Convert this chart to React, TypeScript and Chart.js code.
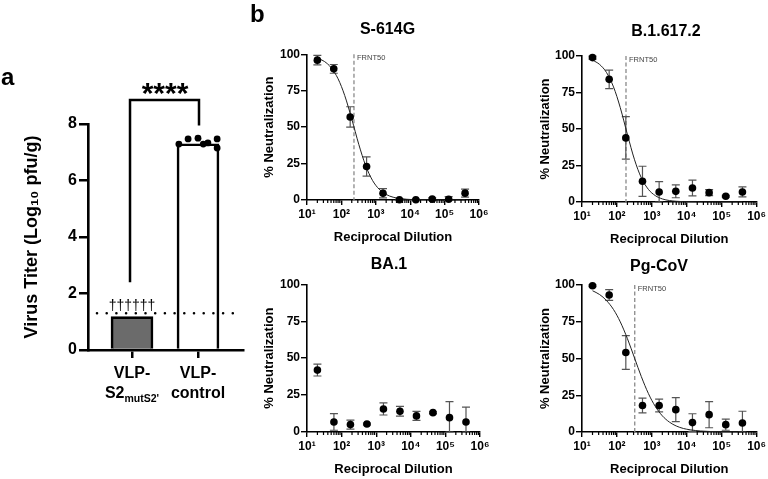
import React, { useEffect, useRef } from "react";
import { Chart, registerables } from "chart.js";

Chart.register(...registerables);

const FONT = "'Liberation Sans', Arial, Helvetica, sans-serif";
Chart.defaults.font.family = FONT;
Chart.defaults.color = "#000";

// ---------------- Panel a data ----------------
const groupNames = ["VLP-S2mutS2'", "VLP-control"];
const groupMeans = [1.18, 7.3];
const controlValues = [7.29, 7.47, 7.5, 7.29, 7.33, 7.47, 7.15];
const controlJitter = [-0.29, -0.15, 0, 0.08, 0.15, 0.29, 0.29];
const limitOfDetection = 1.3;
const deathMarks = "††††††";
const titerTicks = [0, 2, 4, 6, 8];
const significanceLabel = "****";

// ---------------- Panel b data ----------------
const dilutions = [20, 60, 180, 540, 1620, 4860, 14580, 43740, 131220, 393660];

const s614gMean = [96, 90, 57, 23, 4.6, 0.2, 0.2, 0.6, 0.5, 4.7];
const s614gSD = [3.3, 3, 7, 6.6, 3.2, 0.4, 0.4, 0.8, 1.8, 2.7];
const b16172Mean = [98.9, 84, 43.9, 14.2, 6.9, 7.3, 9.6, 6.4, 3.9, 6.9];
const b16172SD = [1, 6.3, 14.6, 10.3, 7, 4.4, 5.4, 2.1, 0.6, 3.4];
const ba1Mean = [41.9, 6.8, 5, 5.4, 15.6, 14, 10.9, 13.1, 9.7, 6.8];
const ba1SD = [4, 5.6, 3, 0.6, 4.1, 3.3, 3, 0.6, 10.9, 10];
const pgcovMean = [99.5, 93.2, 54.1, 18, 18, 15.2, 6.4, 11.8, 5, 6.1];
const pgcovSD = [0.6, 3.7, 11.5, 5, 4.3, 8.2, 6, 8.9, 3.8, 8];

// fitted curves
const curveDilutions = [20, 32, 50, 80, 125, 200, 320, 500, 800, 1250, 2000, 3200, 5000, 8000, 12500, 25000, 100000, 393660];
const s614gCurve = [97.5, 95.1, 90.9, 83.2, 71.7, 55.6, 38.2, 24.0, 13.5, 7.4, 3.8, 1.9, 1.0, 0.5, 0.25, 0.09, 0.01, 0];
const b16172Curve = [97.2, 94.2, 88.8, 78.8, 64.6, 46.2, 28.9, 16.6, 8.6, 4.4, 2.1, 1.0, 0.5, 0.23, 0.11, 0.04, 0, 0];
const pgcovCurve = [96.1, 93.5, 89.5, 83.3, 74.9, 63.5, 50.3, 37.7, 26.1, 17.5, 11.0, 6.7, 4.1, 2.4, 1.5, 0.67, 0.14, 0.03];

const s614gFrnt50 = 232;
const b16172Frnt50 = 182;
const pgcovFrnt50 = 324;

const dilutionTicks = [1e1, 1e2, 1e3, 1e4, 1e5, 1e6];
const dilutionTickLabels = ["10¹", "10²", "10³", "10⁴", "10⁵", "10⁶"];
const neutralizationTicks = [0, 25, 50, 75, 100];

// ---------------- helpers ----------------
function useChart(ref: any, build: () => any) {
  useEffect(() => {
    const chart = new Chart(ref.current, build());
    return () => chart.destroy();
  }, []);
}

function PanelA() {
  const ref = useRef<HTMLCanvasElement>(null);
  const W = 250, H = 420;
  const plotL = 88, plotR = 243, plotT = 124, plotB = 350, xH = 12;
  useChart(ref, () => {
    const plugin = {
      id: "panelA",
      afterDatasetsDraw(chart: any) {
        const { ctx, scales } = chart;
        const xs = scales.x, ys = scales.y;
        ctx.save();
        const yl = ys.getPixelForValue(limitOfDetection);
        ctx.strokeStyle = "#000";
        ctx.lineWidth = 2.6;
        ctx.lineCap = "round";
        ctx.setLineDash([0, 9.7]);
        ctx.beginPath();
        ctx.moveTo(chart.chartArea.left + 9, yl);
        ctx.lineTo(chart.chartArea.right - 2, yl);
        ctx.stroke();
        ctx.setLineDash([]);
        ctx.fillStyle = "#000";
        ctx.font = `14px ${FONT}`;
        ctx.textAlign = "center";
        ctx.textBaseline = "alphabetic";
        ctx.fillText(deathMarks, xs.getPixelForValue(0), yl - 3);
        ctx.restore();
      },
      afterDraw(chart: any) {
        const { ctx, scales } = chart;
        const xs = scales.x, ys = scales.y;
        ctx.save();
        ctx.fillStyle = "#000";
        ctx.textBaseline = "alphabetic";
        const c0 = xs.getPixelForValue(0), c1 = xs.getPixelForValue(1);
        ctx.textAlign = "center";
        ctx.font = `bold 16px ${FONT}`;
        ctx.fillText("VLP-", c0, 378);
        ctx.fillText("VLP-", c1, 378);
        ctx.fillText("control", c1, 398);
        ctx.textAlign = "left";
        ctx.font = `bold 16px ${FONT}`;
        const w1 = ctx.measureText("S2").width;
        ctx.font = `bold 10.5px ${FONT}`;
        const w2 = ctx.measureText("mutS2'").width;
        const sx = c0 - (w1 + w2) / 2;
        ctx.font = `bold 16px ${FONT}`;
        ctx.fillText("S2", sx, 398);
        ctx.font = `bold 10.5px ${FONT}`;
        ctx.fillText("mutS2'", sx + w1, 402);
        const top = ys.getPixelForValue(8.85);
        ctx.strokeStyle = "#000";
        ctx.lineWidth = 2.5;
        ctx.lineCap = "butt";
        ctx.beginPath();
        ctx.moveTo(c0 - 2, ys.getPixelForValue(2.4));
        ctx.lineTo(c0 - 2, top);
        ctx.lineTo(c1 + 1, top);
        ctx.lineTo(c1 + 1, ys.getPixelForValue(7.95));
        ctx.stroke();
        ctx.textAlign = "center";
        ctx.font = `bold 30px ${FONT}`;
        ctx.fillText(significanceLabel, (c0 + c1) / 2, top + 3);
        ctx.textAlign = "left";
        ctx.font = `bold 24px ${FONT}`;
        ctx.fillText("a", 1, 85);
        ctx.restore();
      },
    };
    return {
      type: "bar",
      data: {
        datasets: [
          {
            type: "bar",
            label: "titer",
            data: groupMeans.map((v, i) => ({ x: i, y: v })),
            backgroundColor: ["#6b6b6b", "#ffffff"],
            borderColor: "#000",
            borderWidth: 2.6,
            barThickness: 42,
            order: 1,
          },
          {
            type: "scatter",
            label: "control animals",
            data: controlValues.map((v, i) => ({ x: 1 + controlJitter[i], y: v })),
            pointRadius: 3.4,
            pointBackgroundColor: "#000",
            pointBorderWidth: 0,
            clip: false,
            order: 0,
          },
        ],
      },
      options: {
        responsive: false,
        animation: false,
        layout: { padding: { left: 0, top: plotT, right: W - plotR, bottom: H - plotB - xH } },
        plugins: { legend: { display: false }, tooltip: { enabled: false } },
        scales: {
          x: {
            type: "linear",
            min: -0.667,
            max: 1.682,
            offset: false,
            afterFit: (s: any) => { s.height = xH; },
            afterBuildTicks: (s: any) => { s.ticks = groupNames.map((_, i) => ({ value: i })); },
            ticks: { display: false },
            grid: { display: true, offset: false, drawOnChartArea: false, drawTicks: true, tickLength: 8, color: "#000", lineWidth: 2.5 },
            border: { display: true, color: "#000", width: 2.6 },
          },
          y: {
            min: 0,
            max: 8,
            afterFit: (s: any) => { s.width = plotL; },
            afterBuildTicks: (s: any) => { s.ticks = titerTicks.map((v) => ({ value: v })); },
            ticks: { padding: 2, font: { size: 16, weight: "bold" }, color: "#000" },
            grid: { display: true, drawOnChartArea: false, drawTicks: true, tickLength: 9, color: "#000", lineWidth: 2.5 },
            border: { display: true, color: "#000", width: 2.6 },
            title: {
              display: true,
              text: "Virus Titer (Log₁₀ pfu/g)",
              font: { size: 18, weight: "bold" },
              color: "#000",
              padding: { top: 21, bottom: 0 },
            },
          },
        },
      },
      plugins: [plugin],
    };
  });
  return (
    <canvas
      ref={ref}
      width={W}
      height={H}
      style={{ position: "absolute", left: 0, top: 0, width: W, height: H }}
    />
  );
}

type NeutProps = {
  cLeft: number; cTop: number; cW: number; cH: number;
  plotL: number; plotT: number; plotR: number; plotB: number;
  yTitleX: number;
  title: string; titleX: number; titleY: number;
  mean: number[]; sd: number[];
  curve?: number[]; frnt50?: number;
  letter?: string;
};

function NeutPanel(p: NeutProps) {
  const ref = useRef<HTMLCanvasElement>(null);
  const xH = 45;
  useChart(ref, () => {
    const plugin = {
      id: "neut",
      beforeDatasetsDraw(chart: any) {
        const { ctx, scales, chartArea } = chart;
        const xs = scales.x, ys = scales.y;
        ctx.save();
        if (p.frnt50) {
          const fx = xs.getPixelForValue(p.frnt50);
          ctx.strokeStyle = "#8a8a8a";
          ctx.lineWidth = 1.3;
          ctx.setLineDash([4, 2.5]);
          ctx.beginPath();
          ctx.moveTo(fx, chartArea.top);
          ctx.lineTo(fx, chartArea.bottom);
          ctx.stroke();
          ctx.setLineDash([]);
          ctx.fillStyle = "#444";
          ctx.font = `7.5px ${FONT}`;
          ctx.textAlign = "left";
          ctx.textBaseline = "middle";
          ctx.fillText("FRNT50", fx + 3, chartArea.top + 4);
        }
        ctx.strokeStyle = "#555";
        ctx.lineWidth = 1.2;
        for (let i = 0; i < dilutions.length; i++) {
          const x = xs.getPixelForValue(dilutions[i]);
          const yTop = ys.getPixelForValue(p.mean[i] + p.sd[i]);
          const yBot = ys.getPixelForValue(Math.max(0, p.mean[i] - p.sd[i]));
          ctx.beginPath();
          ctx.moveTo(x, yTop);
          ctx.lineTo(x, yBot);
          ctx.moveTo(x - 4, yTop);
          ctx.lineTo(x + 4, yTop);
          ctx.moveTo(x - 4, yBot);
          ctx.lineTo(x + 4, yBot);
          ctx.stroke();
        }
        ctx.restore();
      },
      afterDraw(chart: any) {
        const { ctx, scales, chartArea } = chart;
        const xs = scales.x;
        ctx.save();
        ctx.strokeStyle = "#000";
        ctx.lineWidth = 1.2;
        ctx.beginPath();
        for (let d = 1; d < 6; d++) {
          for (let k = 2; k < 10; k++) {
            const x = xs.getPixelForValue(k * Math.pow(10, d));
            ctx.moveTo(x, chartArea.bottom);
            ctx.lineTo(x, chartArea.bottom + 3);
          }
        }
        ctx.stroke();
        ctx.fillStyle = "#000";
        ctx.textBaseline = "alphabetic";
        ctx.textAlign = "center";
        ctx.font = `bold 16px ${FONT}`;
        ctx.fillText(p.title, p.titleX - p.cLeft, p.titleY - p.cTop);
        if (p.letter) {
          ctx.textAlign = "left";
          ctx.font = `bold 24px ${FONT}`;
          ctx.fillText(p.letter, 0, 21.5 - p.cTop);
        }
        ctx.restore();
      },
    };
    const datasets: any[] = [
      {
        type: "scatter",
        label: p.title,
        data: dilutions.map((d, i) => ({ x: d, y: p.mean[i] })),
        pointRadius: 3.8,
        pointBackgroundColor: "#000",
        pointBorderWidth: 0,
        clip: false,
        order: 0,
      },
    ];
    if (p.curve) {
      datasets.push({
        type: "line",
        label: p.title + " fit",
        data: curveDilutions.map((d, i) => ({ x: d, y: p.curve![i] })),
        borderColor: "#222",
        borderWidth: 1,
        pointRadius: 0,
        cubicInterpolationMode: "monotone",
        fill: false,
        clip: false,
        order: 1,
      });
    }
    const yW = p.plotL - p.cLeft;
    return {
      type: "scatter",
      data: { datasets },
      options: {
        responsive: false,
        animation: false,
        layout: {
          padding: {
            left: 0,
            top: p.plotT - p.cTop,
            right: p.cLeft + p.cW - p.plotR,
            bottom: p.cTop + p.cH - p.plotB - xH,
          },
        },
        plugins: { legend: { display: false }, tooltip: { enabled: false } },
        scales: {
          x: {
            type: "logarithmic",
            min: 10,
            max: 1e6,
            afterFit: (s: any) => { s.height = xH; },
            afterBuildTicks: (s: any) => { s.ticks = dilutionTicks.map((v) => ({ value: v, major: true })); },
            ticks: {
              autoSkip: false,
              maxRotation: 0,
              padding: 2,
              font: { size: 12, weight: "bold" },
              color: "#000",
              callback: (v: any) => dilutionTickLabels[dilutionTicks.indexOf(Number(v))],
            },
            grid: { display: true, drawOnChartArea: false, drawTicks: true, tickLength: 5, color: "#000", lineWidth: 1.4 },
            border: { display: true, color: "#000", width: 1.6 },
            title: {
              display: true,
              text: "Reciprocal Dilution",
              font: { size: 13, weight: "bold" },
              color: "#000",
              padding: { top: 0, bottom: 0 },
            },
          },
          y: {
            min: 0,
            max: 100,
            afterFit: (s: any) => { s.width = yW; },
            afterBuildTicks: (s: any) => { s.ticks = neutralizationTicks.map((v) => ({ value: v })); },
            ticks: { padding: 1, font: { size: 12, weight: "bold" }, color: "#000" },
            grid: { display: true, drawOnChartArea: false, drawTicks: true, tickLength: 6, color: "#000", lineWidth: 1.4 },
            border: { display: true, color: "#000", width: 1.6 },
            title: {
              display: true,
              text: "% Neutralization",
              font: { size: 13, weight: "bold" },
              color: "#000",
              padding: { top: p.yTitleX - p.cLeft - 7.8, bottom: 0 },
            },
          },
        },
      },
      plugins: [plugin],
    };
  });
  return (
    <canvas
      ref={ref}
      width={p.cW}
      height={p.cH}
      style={{ position: "absolute", left: p.cLeft, top: p.cTop, width: p.cW, height: p.cH }}
    />
  );
}

export default function App() {
  return (
    <div style={{ position: "absolute", left: 0, top: 0, width: 768, height: 479, background: "#fff", overflow: "hidden" }}>
      <PanelA />
      <NeutPanel
        cLeft={250} cTop={0} cW={250} cH={245}
        plotL={307} plotT={54.3} plotR={479} plotB={200}
        yTitleX={269}
        title="S-614G" titleX={387.5} titleY={34}
        mean={s614gMean} sd={s614gSD} curve={s614gCurve} frnt50={s614gFrnt50}
        letter="b"
      />
      <NeutPanel
        cLeft={515} cTop={0} cW={253} cH={247}
        plotL={582} plotT={56} plotR={757} plotB={202}
        yTitleX={545}
        title="B.1.617.2" titleX={666} titleY={35.7}
        mean={b16172Mean} sd={b16172SD} curve={b16172Curve} frnt50={b16172Frnt50}
      />
      <NeutPanel
        cLeft={250} cTop={240} cW={250} cH={237}
        plotL={307} plotT={284.3} plotR={480} plotB={432}
        yTitleX={269}
        title="BA.1" titleX={389} titleY={269.2}
        mean={ba1Mean} sd={ba1SD}
      />
      <NeutPanel
        cLeft={515} cTop={240} cW={253} cH={237}
        plotL={582} plotT={285} plotR={757} plotB={432}
        yTitleX={545}
        title="Pg-CoV" titleX={659} titleY={270.7}
        mean={pgcovMean} sd={pgcovSD} curve={pgcovCurve} frnt50={pgcovFrnt50}
      />
    </div>
  );
}
